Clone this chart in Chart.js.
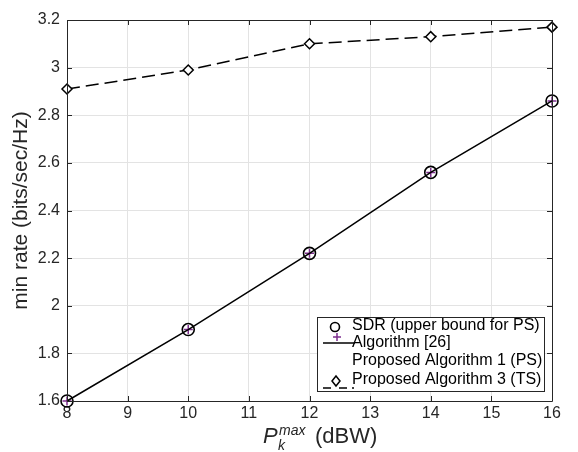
<!DOCTYPE html>
<html>
<head>
<meta charset="utf-8">
<script src="https://cdn.jsdelivr.net/npm/chart.js@4"></script>
<style>
  html, body { margin: 0; padding: 0; background: #fff; }
  #wrap { width: 578px; height: 452px; }
</style>
</head>
<body>
<div id="wrap"><canvas id="c" width="578" height="452"></canvas></div>
<script>
// data
const powerDbw = [8, 10, 12, 14, 16];
const sdrRate = [1.6, 1.9, 2.22, 2.56, 2.86];
const alg26Rate = [1.6, 1.9, 2.22, 2.56, 2.86];
const prop1Rate = [1.6, 1.9, 2.22, 2.56, 2.86];
const prop3Rate = [2.91, 2.99, 3.10, 3.13, 3.17];
const xTicks = [8, 9, 10, 11, 12, 13, 14, 15, 16];
const yTicks = [1.6, 1.8, 2, 2.2, 2.4, 2.6, 2.8, 3, 3.2];
const legendLabels = ['SDR (upper bound for PS)', 'Algorithm [26]', 'Proposed Algorithm 1 (PS)', 'Proposed Algorithm 3 (TS)'];

const FONT = 'Arial, "Liberation Sans", Helvetica, sans-serif';
const PURPLE = '#7E2F8E';

const toXY = (ys) => ys.map((y, i) => ({ x: powerDbw[i], y }));

// MATLAB-ish box, inward ticks, legend and x-title
const matlabBox = {
  id: 'matlabBox',
  afterDatasetsDraw(chart) {
    const { ctx, chartArea: a, scales } = chart;
    ctx.save();
    ctx.strokeStyle = '#262626';
    ctx.lineWidth = 1;
    ctx.beginPath();
    ctx.rect(a.left + 0.5, a.top + 0.5, a.right - a.left, a.bottom - a.top);
    ctx.stroke();
    // inward ticks
    ctx.beginPath();
    xTicks.forEach(v => {
      const px = Math.round(scales.x.getPixelForValue(v)) + 0.5;
      ctx.moveTo(px, a.bottom); ctx.lineTo(px, a.bottom - 5);
      ctx.moveTo(px, a.top); ctx.lineTo(px, a.top + 5);
    });
    yTicks.forEach(v => {
      const py = Math.round(scales.y.getPixelForValue(v)) + 0.5;
      ctx.moveTo(a.left, py); ctx.lineTo(a.left + 5, py);
      ctx.moveTo(a.right, py); ctx.lineTo(a.right - 5, py);
    });
    ctx.stroke();

    // legend
    const lx = 317, ly = 317, lw = 227, lh = 74;
    ctx.fillStyle = '#fff';
    ctx.fillRect(lx, ly, lw, lh);
    ctx.strokeStyle = '#262626';
    ctx.strokeRect(lx + 0.5, ly + 0.5, lw, lh);
    ctx.fillStyle = '#000';
    ctx.font = '16px ' + FONT;
    ctx.textBaseline = 'middle';
    const rows = [326, 343, 361, 380];
    legendLabels.forEach((t, i) => ctx.fillText(t, 352, rows[i]));
    // SDR circle
    ctx.lineWidth = 1.6;
    ctx.strokeStyle = '#000';
    ctx.beginPath(); ctx.arc(335, 327, 4.5, 0, Math.PI * 2); ctx.stroke();
    // Algorithm [26] plus + solid line
    ctx.lineWidth = 1.5;
    ctx.beginPath(); ctx.moveTo(323, 343); ctx.lineTo(355, 343); ctx.stroke();
    ctx.strokeStyle = PURPLE;
    ctx.beginPath();
    ctx.moveTo(333, 337); ctx.lineTo(341, 337);
    ctx.moveTo(337, 333); ctx.lineTo(337, 341);
    ctx.stroke();
    // Prop 3 dashed + diamond
    ctx.strokeStyle = '#000';
    ctx.beginPath();
    ctx.moveTo(323, 388); ctx.lineTo(331, 388);
    ctx.moveTo(339, 388); ctx.lineTo(347, 388);
    ctx.moveTo(352, 388); ctx.lineTo(354, 388);
    ctx.stroke();
    ctx.beginPath();
    ctx.moveTo(336, 376); ctx.lineTo(340, 381); ctx.lineTo(336, 386); ctx.lineTo(332, 381); ctx.closePath();
    ctx.fillStyle = '#fff'; ctx.fill(); ctx.stroke();

    // x title: P_k^max (dBW)
    ctx.fillStyle = '#262626';
    ctx.textBaseline = 'alphabetic';
    const cx = 263, by = 443;
    ctx.font = 'italic 22px ' + FONT;
    ctx.fillText('P', cx, by);
    ctx.font = 'italic 14px ' + FONT;
    ctx.fillText('max', cx + 16, by - 8);
    ctx.fillText('k', cx + 15, by + 7);
    ctx.font = '22px ' + FONT;
    ctx.fillText('(dBW)', cx + 52, by);
    ctx.restore();
  }
};

new Chart(document.getElementById('c'), {
  type: 'line',
  data: {
    datasets: [
      {
        label: legendLabels[2],
        data: toXY(prop1Rate),
        borderColor: '#000',
        borderWidth: 1.5,
        pointRadius: 0,
        fill: false
      },
      {
        label: legendLabels[0],
        data: toXY(sdrRate),
        showLine: false,
        pointStyle: 'circle',
        pointRadius: 6,
        pointBorderWidth: 1.6,
        pointBorderColor: '#000',
        pointBackgroundColor: 'rgba(0,0,0,0)'
      },
      {
        label: legendLabels[1],
        data: toXY(alg26Rate),
        showLine: false,
        pointStyle: 'cross',
        pointRadius: 4.5,
        pointBorderWidth: 1.5,
        pointBorderColor: PURPLE,
        pointBackgroundColor: PURPLE
      },
      {
        label: legendLabels[3],
        data: toXY(prop3Rate),
        borderColor: '#000',
        borderWidth: 1.5,
        borderDash: [13, 6],
        pointStyle: 'rectRot',
        pointRadius: 5,
        pointBorderWidth: 1.5,
        pointBorderColor: '#000',
        pointBackgroundColor: '#fff',
        fill: false
      }
    ]
  },
  options: {
    responsive: false,
    animation: false,
    clip: false,
    layout: { padding: { top: 20, right: 26, left: 0, bottom: 0 } },
    plugins: {
      legend: { display: false },
      tooltip: { enabled: false }
    },
    scales: {
      x: {
        type: 'linear',
        min: 8,
        max: 16,
        afterBuildTicks: (s) => { s.ticks = xTicks.map(v => ({ value: v })); },
        afterFit: (s) => { s.height = 51; },
        ticks: {
          color: '#262626',
          font: { family: FONT, size: 16 },
          padding: 3,
          maxRotation: 0
        },
        grid: { color: '#e3e3e3', drawTicks: false },
        border: { display: false }
      },
      y: {
        min: 1.6,
        max: 3.2,
        afterBuildTicks: (s) => { s.ticks = yTicks.map(v => ({ value: v })); },
        afterFit: (s) => { s.width = 67; },
        ticks: {
          color: '#262626',
          font: { family: FONT, size: 16 },
          padding: 7,
          callback: (v) => String(parseFloat(v.toFixed(1)))
        },
        grid: { color: '#e3e3e3', drawTicks: false },
        border: { display: false },
        title: {
          display: true,
          text: 'min rate (bits/sec/Hz)',
          color: '#262626',
          font: { family: FONT, size: 21 },
          padding: { top: 9, bottom: 4 }
        }
      }
    }
  },
  plugins: [matlabBox]
});
</script>
</body>
</html>
